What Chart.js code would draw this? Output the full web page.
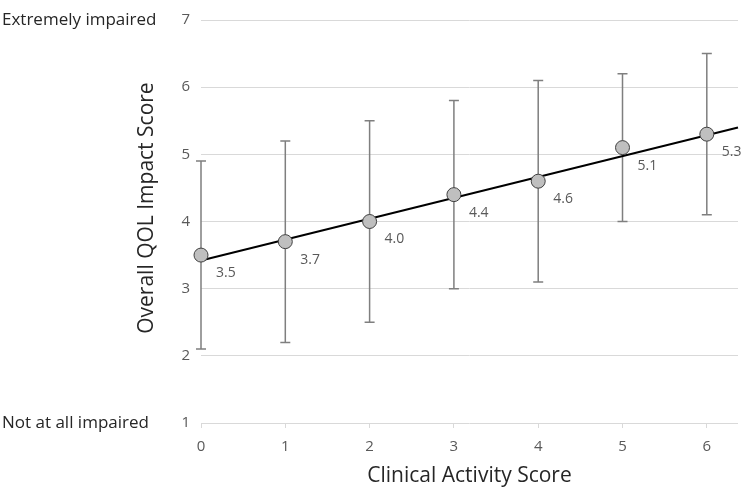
<!DOCTYPE html>
<html>
<head>
<meta charset="utf-8">
<script src="https://cdn.jsdelivr.net/npm/chart.js@4"></script>
<style>
  html, body { margin: 0; padding: 0; background: #fff; }
  #wrap { width: 748px; height: 489px; }
</style>
</head>
<body>
<div id="wrap"><canvas id="myChart" width="748" height="489"></canvas></div>
<script>
const scores = [0, 1, 2, 3, 4, 5, 6];
const means = [3.5, 3.7, 4.0, 4.4, 4.6, 5.1, 5.3];
const lows = [2.1, 2.2, 2.5, 3.0, 3.1, 4.0, 4.1];
const highs = [4.9, 5.2, 5.5, 5.8, 6.1, 6.2, 6.5];
const trendX = [0, 6.37];
const trendY = [3.42, 5.4];
const xTicks = [0, 1, 2, 3, 4, 5, 6];
const yTicks = [1, 2, 3, 4, 5, 6, 7];
const sideLabels = [
  { value: 7, text: "Extremely impaired" },
  { value: 1, text: "Not at all impaired" }
];
const yTitle = "Overall QOL Impact Score";

const font = "'Open Sans', 'Noto Sans', sans-serif";

const errorBars = {
  id: "errorBars",
  beforeDatasetsDraw(chart) {
    const { ctx, scales: { x, y } } = chart;
    ctx.save();
    ctx.strokeStyle = "#7f7f7f";
    ctx.lineWidth = 1.5;
    scores.forEach((s, i) => {
      const px = x.getPixelForValue(s);
      const top = y.getPixelForValue(highs[i]);
      const bot = y.getPixelForValue(lows[i]);
      ctx.beginPath();
      ctx.moveTo(px, top);
      ctx.lineTo(px, bot);
      ctx.moveTo(px - 5, top);
      ctx.lineTo(px + 5, top);
      ctx.moveTo(px - 5, bot);
      ctx.lineTo(px + 5, bot);
      ctx.stroke();
    });
    ctx.restore();
  }
};

const extraText = {
  id: "extraText",
  afterDraw(chart) {
    const { ctx, scales: { x, y } } = chart;
    ctx.save();
    // value labels next to the points
    ctx.fillStyle = "#595959";
    ctx.font = "14px " + font;
    ctx.textAlign = "left";
    ctx.textBaseline = "middle";
    scores.forEach((s, i) => {
      ctx.fillText(means[i].toFixed(1), x.getPixelForValue(s) + 15, y.getPixelForValue(means[i]) + 18);
    });
    // descriptive labels at the ends of the y axis
    ctx.fillStyle = "#262626";
    ctx.font = "17px " + font;
    sideLabels.forEach(l => {
      ctx.fillText(l.text, 2, y.getPixelForValue(l.value));
    });
    // y axis title, a little above the middle of the axis
    ctx.font = "21px " + font;
    ctx.textAlign = "center";
    ctx.textBaseline = "alphabetic";
    ctx.translate(153, y.getPixelForValue(4.2));
    ctx.rotate(-Math.PI / 2);
    ctx.fillText(yTitle, 0, 0);
    ctx.restore();
  }
};

const data = {
  datasets: [
    {
      type: "scatter",
      label: "Mean",
      data: scores.map((s, i) => ({ x: s, y: means[i] })),
      backgroundColor: "#bfbfbf",
      borderColor: "#404040",
      borderWidth: 1,
      pointRadius: 7,
      clip: false,
      order: 1
    },
    {
      type: "line",
      label: "Trend",
      data: trendX.map((t, i) => ({ x: t, y: trendY[i] })),
      borderColor: "#000000",
      borderWidth: 2,
      pointRadius: 0,
      fill: false,
      clip: false,
      order: 2
    }
  ]
};

const config = {
  type: "scatter",
  data: data,
  plugins: [errorBars, extraText],
  options: {
    responsive: false,
    animation: false,
    layout: { padding: { left: 135, right: 10, top: 10, bottom: 0 } },
    plugins: {
      legend: { display: false },
      tooltip: { enabled: false }
    },
    scales: {
      x: {
        type: "linear",
        min: 0,
        max: 6.37,
        afterBuildTicks: scale => { scale.ticks = xTicks.map(v => ({ value: v })); },
        afterFit: scale => { scale.height = 66; },
        border: { display: false },
        grid: { drawOnChartArea: false, drawTicks: true, tickLength: 5, color: "#d9d9d9" },
        ticks: { color: "#595959", font: { family: font, size: 15 }, padding: 10 },
        title: {
          display: true,
          text: "Clinical Activity Score",
          color: "#262626",
          font: { family: font, size: 21 },
          padding: { top: 2, bottom: 0 }
        }
      },
      y: {
        type: "linear",
        min: 1,
        max: 7,
        afterBuildTicks: scale => { scale.ticks = yTicks.map(v => ({ value: v })); },
        afterFit: scale => { scale.width = 66; },
        border: { display: false },
        grid: { drawTicks: false, color: "#d9d9d9" },
        ticks: { color: "#595959", font: { family: font, size: 15 }, padding: 11 }
      }
    }
  }
};

let myChart = new Chart(document.getElementById("myChart"), config);
</script>
</body>
</html>
